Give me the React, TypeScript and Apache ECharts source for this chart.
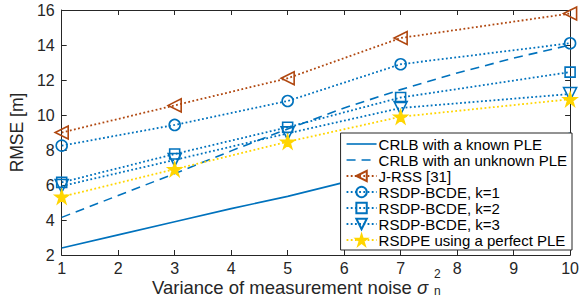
import React, { useEffect, useRef } from "react";
import * as echarts from "echarts";

const markerX = [1, 3, 5, 7, 10];
const crlbX = [1, 2, 3, 4, 5, 6, 7, 8, 9, 10];
const crlbKnown = [2.4, 3.15, 3.9, 4.65, 5.35, 6.15, 6.85, 7.55, 8.25, 8.95];
const crlbUnknown = [4.15, 5.4, 6.65, 7.95, 9.2, 10.4, 11.45, 12.4, 13.25, 14.0];
const jrss = [9.0, 10.55, 12.1, 14.4, 15.8];
const k1 = [8.25, 9.43, 10.8, 12.9, 14.1];
const k2 = [6.15, 7.77, 9.3, 11.0, 12.45];
const k3 = [5.94, 7.43, 8.95, 10.4, 11.2];
const perfect = [5.33, 6.9, 8.47, 9.9, 10.9];

const names = [
  "CRLB with a known PLE",
  "CRLB with an unknown PLE",
  "J-RSS [31]",
  "RSDP-BCDE, k=1",
  "RSDP-BCDE, k=2",
  "RSDP-BCDE, k=3",
  "RSDPE using a perfect PLE",
];

const BLUE = "#0072BD";
const BROWN = "#B0470F";
const YELLOW = "#FFD500";
const AX = "#262626";
const FONT = "Liberation Sans, Arial, Helvetica, sans-serif";
const STAR =
  "path://M50,0 L61.2,34.5 L97.6,34.5 L68.2,55.9 L79.4,90.5 L50,69.1 L20.6,90.5 L31.8,55.9 L2.4,34.5 L38.8,34.5 Z";

const pair = (xs: number[], ys: number[]) => xs.map((x, i) => [x, ys[i]]);

export default function App() {
  const ref = useRef<HTMLDivElement>(null);
  useEffect(() => {
    document.body.style.margin = "0";
    const chart = echarts.init(ref.current!, undefined, { renderer: "svg" });
    const dotted = [1.8, 2.4];
    const dashed = [9, 6];
    const mk = (
      name: string,
      ys: number[],
      color: string,
      symbol: string,
      size: number,
      rotate = 0,
      fill = "transparent"
    ) => ({
      name,
      type: "line",
      data: pair(markerX, ys),
      symbol,
      symbolSize: size,
      symbolRotate: rotate,
      showAllSymbol: true,
      lineStyle: { color, width: 1.8, type: dotted },
      itemStyle: { color: fill, borderColor: color, borderWidth: 1.6 },
      z: 3,
    });
    const tickAxis = {
      axisLine: { show: true, lineStyle: { color: AX, width: 1 } },
      axisTick: { show: true, inside: true, length: 5, lineStyle: { color: AX } },
      splitLine: { show: false },
    };
    chart.setOption({
      animation: false,
      textStyle: { fontFamily: FONT },
      grid: { left: 52, right: 9, top: 10, bottom: 47 },
      xAxis: [
        {
          type: "value",
          min: 1,
          max: 10,
          interval: 1,
          ...tickAxis,
          axisLabel: { color: AX, fontSize: 16, margin: 5, lineHeight: 16, fontFamily: FONT },
        },
        {
          type: "value",
          position: "top",
          min: 1,
          max: 10,
          interval: 1,
          ...tickAxis,
          axisLabel: { show: false },
        },
      ],
      yAxis: [
        {
          type: "value",
          min: 2,
          max: 16,
          interval: 2,
          name: "RMSE [m]",
          nameLocation: "middle",
          nameGap: 30,
          nameTextStyle: { color: AX, fontSize: 17.5, fontFamily: FONT },
          ...tickAxis,
          axisLabel: { color: AX, fontSize: 16, margin: 7, fontFamily: FONT },
        },
        {
          type: "value",
          position: "right",
          min: 2,
          max: 16,
          interval: 2,
          ...tickAxis,
          axisLabel: { show: false },
        },
      ],
      legend: {
        orient: "vertical",
        right: 10,
        top: 133,
        data: [
          {
            name: names[0],
            itemStyle: { color: "transparent", borderColor: "transparent" },
            lineStyle: { color: BLUE, width: 1.6, type: "solid" },
          },
          {
            name: names[1],
            itemStyle: { color: "transparent", borderColor: "transparent" },
            lineStyle: { color: BLUE, width: 1.6, type: dashed },
          },
          ...names.slice(2),
        ],
        itemWidth: 30,
        itemHeight: 13,
        itemGap: 0,
        padding: [3, 5, 2, 5],
        backgroundColor: "#fff",
        borderColor: AX,
        borderWidth: 1,
        borderRadius: 0,
        textStyle: {
          color: "#000",
          fontSize: 15,
          lineHeight: 16,
          fontFamily: FONT,
          padding: [0, 0, 0, -3],
        },
      },
      graphic: [
        {
          type: "text",
          left: 152,
          top: 278,
          style: {
            text: "Variance of measurement noise {s|σ}",
            fill: AX,
            font: `18.5px ${FONT}`,
            lineHeight: 18,
            rich: {
              s: { fill: AX, font: `italic 18.5px ${FONT}`, lineHeight: 18 },
            },
          },
        },
        {
          type: "text",
          left: 434,
          top: 268,
          style: { text: "2", fill: AX, font: `12px ${FONT}` },
        },
        {
          type: "text",
          left: 434,
          top: 285,
          style: { text: "n", fill: AX, font: `12px ${FONT}` },
        },
      ],
      series: [
        {
          name: names[0],
          type: "line",
          data: pair(crlbX, crlbKnown),
          symbol: "none",
          lineStyle: { color: BLUE, width: 1.6, type: "solid" },
          itemStyle: { color: BLUE },
          z: 2,
        },
        {
          name: names[1],
          type: "line",
          data: pair(crlbX, crlbUnknown),
          symbol: "none",
          lineStyle: { color: BLUE, width: 1.6, type: dashed },
          itemStyle: { color: BLUE },
          z: 2,
        },
        mk(names[2], jrss, BROWN, "triangle", 13, 90),
        mk(names[3], k1, BLUE, "circle", 11),
        mk(names[4], k2, BLUE, "rect", 10),
        mk(names[5], k3, BLUE, "triangle", 13, 180),
        mk(names[6], perfect, YELLOW, STAR, 13, 0, YELLOW),
      ],
    });
    return () => chart.dispose();
  }, []);
  return <div ref={ref} style={{ width: 582, height: 302 }} />;
}
